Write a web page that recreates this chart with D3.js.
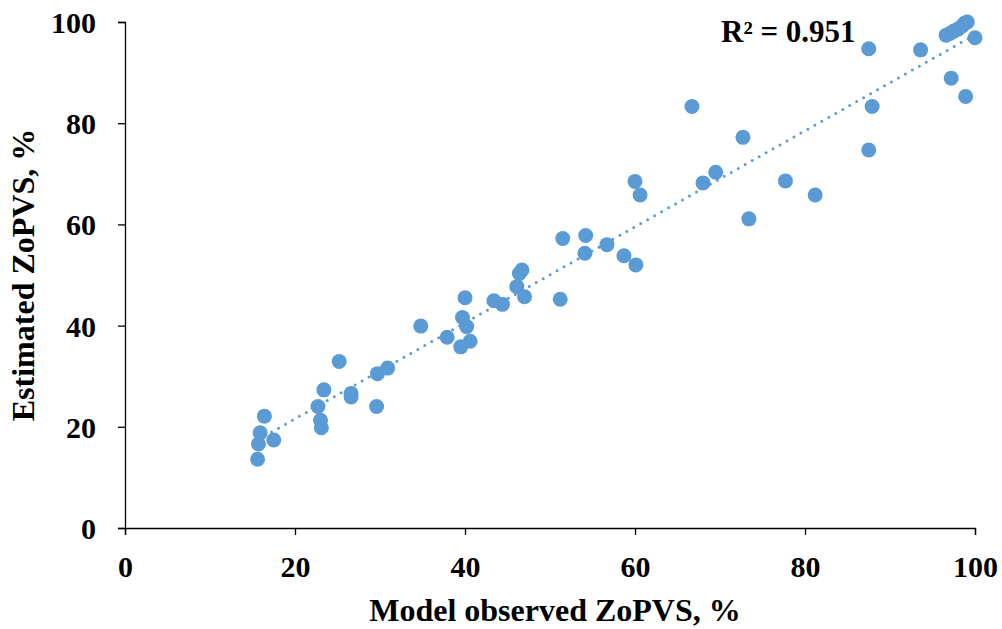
<!DOCTYPE html>
<html>
<head>
<meta charset="utf-8">
<script src="https://cdn.jsdelivr.net/npm/d3@7/dist/d3.min.js"></script>
<style>
  html, body { margin: 0; padding: 0; background: #fff; }
  svg { display: block; }
  text { font-family: "Liberation Serif", "Times New Roman", serif; font-weight: bold; fill: #000; }
</style>
</head>
<body>
<svg id="chart" width="1002" height="629"></svg>
<script>
// Model observed ZoPVS, %
const observed = [
  15.6, 15.7, 15.9, 16.4, 17.5, 22.7, 23.0, 23.1, 23.4, 25.2,
  26.6, 26.6, 29.6, 29.7, 30.9, 34.8, 37.9, 39.5, 40.6, 39.7,
  40.2, 40.0, 43.4, 44.4, 46.1, 46.4, 46.7, 47.0, 51.2, 51.5,
  54.1, 54.2, 56.7, 58.7, 60.1, 60.0, 60.6, 66.7, 68.0, 69.5,
  72.7, 73.4, 77.7, 81.2, 87.5, 87.5, 87.9, 93.6, 97.2, 98.9,
  100.0, 96.6, 97.1, 97.5, 98.0, 98.5, 98.8, 99.1
];
// Estimated ZoPVS, %
const estimated = [
  13.6, 16.6, 18.8, 22.1, 17.4, 24.0, 21.3, 19.8, 27.3, 32.9,
  26.6, 25.9, 24.0, 30.5, 31.6, 39.9, 37.7, 35.8, 36.9, 41.6,
  39.8, 45.5, 44.9, 44.2, 47.7, 50.3, 51.0, 45.7, 45.2, 57.2,
  54.3, 57.8, 56.0, 53.8, 52.0, 68.5, 65.8, 83.3, 68.2, 70.3,
  77.2, 61.1, 68.6, 65.8, 94.7, 74.7, 83.3, 94.5, 88.9, 85.3,
  96.9, 97.4, 97.8, 98.2, 98.6, 99.2, 99.8, 100.0
];
const xTicks = [0, 20, 40, 60, 80, 100];
const yTicks = [0, 20, 40, 60, 80, 100];
const xTitle = "Model observed ZoPVS, %";
const yTitle = "Estimated ZoPVS, %";
const r2Label = "R\u00B2 = 0.951";

const svg = d3.select("#chart");
const x = d3.scaleLinear().domain([0, 100]).range([125, 975]);
const y = d3.scaleLinear().domain([0, 100]).range([528, 22]);

// Axes
const xAxis = d3.axisBottom(x).tickValues(xTicks).tickSize(7).tickPadding(22).tickSizeOuter(7);
const yAxis = d3.axisLeft(y).tickValues(yTicks).tickSize(7).tickPadding(22).tickSizeOuter(7);

const gx = svg.append("g").attr("transform", `translate(0,${y(0)})`).call(xAxis);
const gy = svg.append("g").attr("transform", `translate(${x(0)},0)`).call(yAxis);
[gx, gy].forEach(g => {
  g.selectAll("path, line").attr("stroke", "#000").attr("stroke-width", 1.3);
  g.selectAll("text").style("font-size", "30px").style("font-family", "'Liberation Serif', serif").style("font-weight", "bold").attr("fill", "#000");
});
gx.selectAll("text").attr("dy", "0.68em");
gy.selectAll("text").attr("dy", "0.35em");

// Trendline (linear least squares from the data)
const n = observed.length;
const mx = d3.mean(observed), my = d3.mean(estimated);
let sxy = 0, sxx = 0;
for (let i = 0; i < n; i++) { sxy += (observed[i] - mx) * (estimated[i] - my); sxx += (observed[i] - mx) ** 2; }
const slope = sxy / sxx, intercept = my - slope * mx;
const xmin = d3.min(observed), xmax = d3.max(observed);

// Points
const pts = observed.map((v, i) => ({ x: v, y: estimated[i] }));
svg.append("g").selectAll("circle").data(pts).join("circle")
  .attr("cx", d => x(d.x)).attr("cy", d => y(d.y)).attr("r", 7.5)
  .attr("fill", "#5B9BD5");

svg.append("line")
  .attr("x1", x(xmin)).attr("y1", y(slope * xmin + intercept))
  .attr("x2", x(xmax)).attr("y2", y(slope * xmax + intercept))
  .attr("stroke", "#5B9BD5").attr("stroke-width", 3)
  .attr("stroke-linecap", "round").attr("stroke-dasharray", "0 8");

// R² label
svg.append("text").attr("x", 721).attr("y", 42).style("font-size", "31px").text(r2Label);

// Axis titles
svg.append("text").attr("x", 555).attr("y", 621).attr("text-anchor", "middle").style("font-size", "32px").text(xTitle);
svg.append("text").attr("transform", "translate(34,275) rotate(-90)").attr("text-anchor", "middle").style("font-size", "32px").text(yTitle);
</script>
</body>
</html>
